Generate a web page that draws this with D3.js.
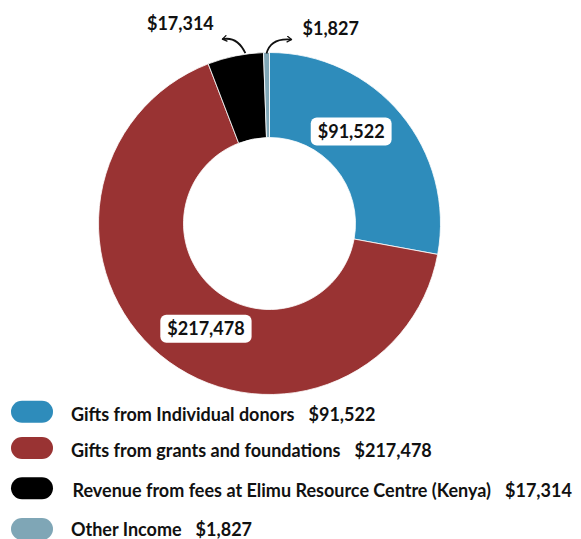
<!DOCTYPE html>
<html>
<head>
<meta charset="utf-8">
<script src="https://cdn.jsdelivr.net/npm/d3@7"></script>
<style>
  html, body { margin: 0; padding: 0; background: #fff; }
  svg { display: block; font-family: Lato, "Open Sans", sans-serif; }
</style>
</head>
<body>
<svg id="chart" width="581" height="539"></svg>
<script>
const categories = [
  "Gifts from Individual donors",
  "Gifts from grants and foundations",
  "Revenue from fees at Elimu Resource Centre (Kenya)",
  "Other Income"
];
const values = [91522, 217478, 17314, 1827];
const valueLabels = ["$91,522", "$217,478", "$17,314", "$1,827"];
const colors = ["#2e8cbb", "#993333", "#000000", "#7fa6b6"];

const svg = d3.select("#chart");
const cx = 269.5, cy = 223.5, rOuter = 171, rInner = 86;

const pie = d3.pie().sort(null).value(d => d)(values);
const arc = d3.arc().innerRadius(rInner).outerRadius(rOuter);

const g = svg.append("g").attr("transform", `translate(${cx},${cy})`);
g.selectAll("path.slice").data(pie).join("path")
  .attr("class", "slice")
  .attr("d", arc)
  .attr("fill", (d, i) => colors[i])
  .attr("stroke", "#fff")
  .attr("stroke-width", 0.8);

// inside labels for the two big slices
const labelArc = d3.arc().innerRadius(123).outerRadius(123);
const shift = -0.15;
[0, 1].forEach(i => {
  const d = pie[i];
  const mid = { startAngle: d.startAngle + shift, endAngle: d.endAngle + shift };
  const [lx, ly] = labelArc.centroid(mid);
  const lg = g.append("g").attr("transform", `translate(${lx},${ly})`);
  const t = lg.append("text")
    .attr("text-anchor", "middle")
    .attr("dy", "0.36em")
    .attr("font-size", 18)
    .attr("font-weight", 700)
    .attr("fill", "#111")
    .text(valueLabels[i]);
  const bb = t.node().getBBox();
  lg.insert("rect", "text")
    .attr("x", bb.x - 7).attr("y", -14)
    .attr("width", bb.width + 14).attr("height", 28)
    .attr("rx", 6).attr("fill", "#fff");
});

// arrow marker
const defs = svg.append("defs");
defs.append("marker")
  .attr("id", "arrow").attr("viewBox", "0 0 10 10")
  .attr("refX", 7).attr("refY", 5)
  .attr("markerWidth", 7).attr("markerHeight", 7)
  .attr("markerUnits", "userSpaceOnUse")
  .attr("orient", "auto")
  .append("path").attr("d", "M1,1 L7,5 L1,9")
  .attr("fill", "none").attr("stroke", "#111").attr("stroke-width", 1.8)
  .attr("stroke-linecap", "round").attr("stroke-linejoin", "round");

// outside callouts for the small slices
const outerPt = (angle, r) => [cx + r * Math.sin(angle), cy - r * Math.cos(angle)];
const blk = pie[2], oth = pie[3];
const a2 = (blk.startAngle + blk.endAngle) / 2 + 0.06;
const a3 = (oth.startAngle + oth.endAngle) / 2;
const [s2x, s2y] = outerPt(a2, rOuter + 1);
const [s3x, s3y] = outerPt(a3, rOuter - 1);

svg.append("path")
  .attr("d", `M${s2x},${s2y} Q${s2x - 8},${s2y - 17} ${s2x - 23},${s2y - 14}`)
  .attr("fill", "none").attr("stroke", "#111").attr("stroke-width", 1.8)
  .attr("marker-end", "url(#arrow)");
svg.append("path")
  .attr("d", `M${s3x},${s3y} Q${s3x + 4},${s3y - 16} ${s3x + 25},${s3y - 14}`)
  .attr("fill", "none").attr("stroke", "#111").attr("stroke-width", 1.8)
  .attr("marker-end", "url(#arrow)");

svg.append("text")
  .attr("x", s2x - 65).attr("y", 29.5)
  .attr("text-anchor", "middle")
  .attr("font-size", 18).attr("font-weight", 700).attr("fill", "#111")
  .text(valueLabels[2]);
svg.append("text")
  .attr("x", s3x + 36).attr("y", 35)
  .attr("font-size", 18).attr("font-weight", 700).attr("fill", "#111")
  .attr("text-anchor", "start")
  .text(valueLabels[3]);

// legend
const rowY = [411.7, 448, 488.3, 529];
const lg = svg.append("g");
categories.forEach((c, i) => {
  const row = lg.append("g").attr("transform", `translate(0,${rowY[i]})`);
  row.append("rect")
    .attr("x", 11).attr("y", -11).attr("width", 42).attr("height", 22)
    .attr("rx", 11).attr("fill", colors[i]);
  const t = row.append("text")
    .attr("x", i === 2 ? 72.5 : 71).attr("y", i === 3 ? 7 : 8.8)
    .attr("font-size", 18).attr("font-weight", 700).attr("fill", "#111");
  t.append("tspan").text(c);
  t.append("tspan").attr("dx", 14).text(valueLabels[i]);
});
</script>
</body>
</html>
